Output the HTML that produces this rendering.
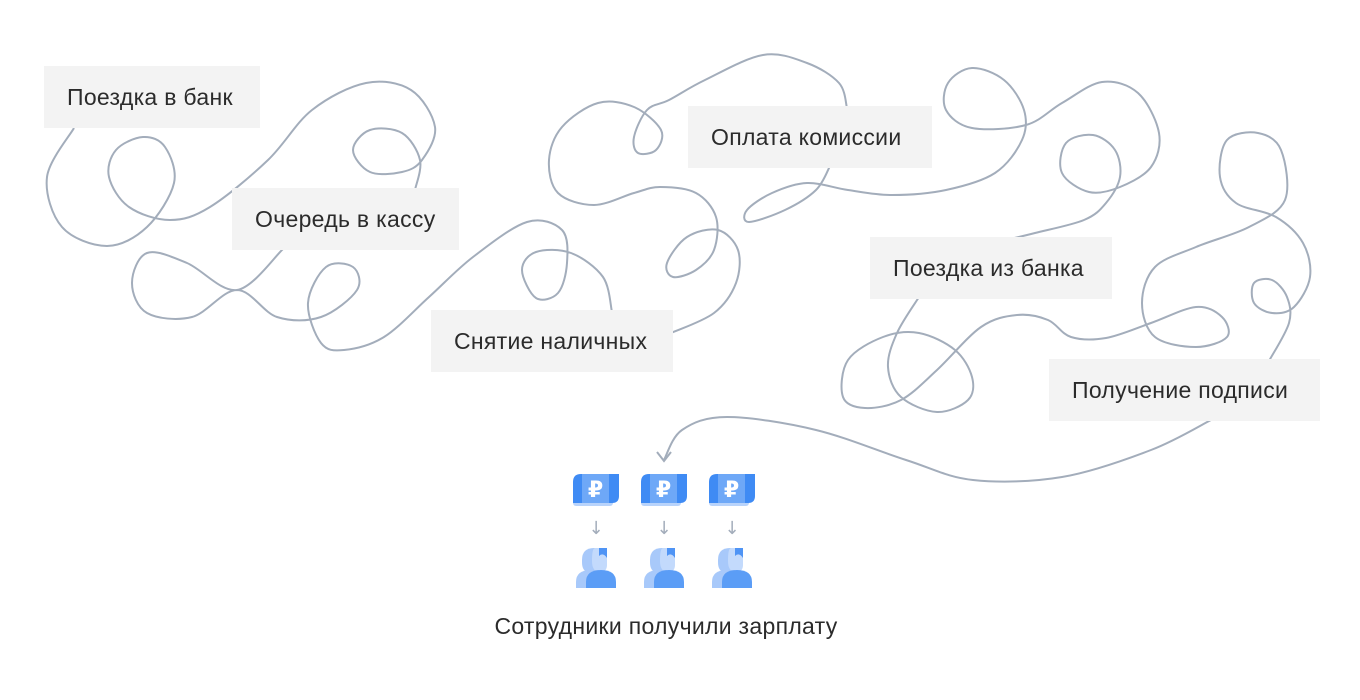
<!DOCTYPE html>
<html><head><meta charset="utf-8">
<style>
html,body{margin:0;padding:0;background:#fff;}
body{width:1360px;height:700px;position:relative;overflow:hidden;font-family:"Liberation Sans","DejaVu Sans",sans-serif;}
svg{position:absolute;left:0;top:0;}
.b{position:absolute;background:#f3f3f3;color:#2b2b2b;font-size:23px;letter-spacing:0.3px;display:flex;align-items:center;padding-left:23px;box-sizing:border-box;white-space:nowrap;}
.cap{position:absolute;left:416px;width:500px;top:613px;text-align:center;font-size:23px;letter-spacing:0.3px;color:#2b2b2b;}
</style></head><body>
<svg id="s" width="1360" height="700" viewBox="0 0 1360 700"></svg>
<div class="b" style="left:44px;top:66px;width:216px;height:62px">Поездка в банк</div>
<div class="b" style="left:232px;top:188px;width:227px;height:62px">Очередь в кассу</div>
<div class="b" style="left:431px;top:310px;width:242px;height:62px">Снятие наличных</div>
<div class="b" style="left:688px;top:106px;width:244px;height:62px">Оплата комиссии</div>
<div class="b" style="left:870px;top:237px;width:242px;height:62px">Поездка из банка</div>
<div class="b" style="left:1049px;top:359px;width:271px;height:62px">Получение подписи</div>
<svg width="1360" height="700" viewBox="0 0 1360 700" style="pointer-events:none">
<g id="icons"></g>
</svg>
<div class="cap">Сотрудники получили зарплату</div>
<script>
var segs=[
[[74,128],[47,177],[62,227],[107,246],[147,227],[174,183],[165,147],[143,137],[116,150],[109,177],[129,207],[170,220],[210,207],[268,160],[312,110],[366,83],[411,90],[435,127],[422,160],[402,172],[370,172],[353,150],[370,130],[402,133],[420,160],[415,190]],
[[283,249],[237,290],[187,263],[147,253],[132,283],[147,313],[192,317],[237,290],[277,317],[321,317],[357,290],[353,267],[326,267],[308,303],[321,343],[344,350],[384,337],[429,297],[473,257],[527,222],[562,230],[567,263],[558,293],[536,298],[522,270],[536,252],[571,253],[603,277],[612,312]],
[[671,333],[714,313],[736,283],[738,250],[718,230],[687,237],[667,263],[673,277],[696,270],[714,250],[716,217],[696,193],[660,187],[634,193],[594,205],[558,193],[549,160],[562,127],[598,103],[634,107],[661,130],[656,150],[638,153],[634,137],[647,110],[669,100],[705,80],[763,55],[807,63],[839,83],[847,108]],
[[830,166],[816,190],[785,210],[749,222],[747,210],[772,193],[807,183],[848,190],[892,195],[946,190],[995,173],[1022,140],[1024,110],[1004,80],[972,68],[948,83],[946,110],[972,128],[1026,125],[1062,103],[1102,82],[1138,93],[1159,133],[1151,167],[1120,187],[1089,192],[1062,173],[1066,143],[1093,135],[1115,150],[1120,177],[1106,203],[1084,220],[1035,233],[1010,239]],
[[919,297],[897,333],[888,367],[901,397],[937,412],[968,400],[972,377],[955,350],[919,333],[883,337],[848,360],[843,397],[865,408],[901,400],[937,370],[981,327],[1017,315],[1048,320],[1071,337],[1106,338],[1151,323],[1196,307],[1222,317],[1227,337],[1196,347],[1155,337],[1142,303],[1155,267],[1196,247],[1249,227],[1285,200],[1281,150],[1258,133],[1227,140],[1220,177],[1236,203],[1276,217],[1303,243],[1310,277],[1294,307],[1272,313],[1254,303],[1254,283],[1272,280],[1287,297],[1289,323],[1269,361]],
[[1211,420],[1151,450],[1062,477],[973,480],[906,460],[816,430],[727,417],[682,430],[664,460]]
];
function cr(p){var d="M"+p[0][0]+" "+p[0][1];for(var i=0;i<p.length-1;i++){var p0=p[i-1]||p[i],p1=p[i],p2=p[i+1],p3=p[i+2]||p2;
var c1=[p1[0]+(p2[0]-p0[0])/6,p1[1]+(p2[1]-p0[1])/6],c2=[p2[0]-(p3[0]-p1[0])/6,p2[1]-(p3[1]-p1[1])/6];
d+=" C"+c1[0].toFixed(1)+" "+c1[1].toFixed(1)+" "+c2[0].toFixed(1)+" "+c2[1].toFixed(1)+" "+p2[0]+" "+p2[1];}return d;}
var s=document.getElementById("s"),h="";
segs.forEach(function(p){h+='<path d="'+cr(p)+'" fill="none" stroke="#a3adbb" stroke-width="2"/>';});
h+='<path d="M657 452 L664 461 L671 452" fill="none" stroke="#a3adbb" stroke-width="2"/>';
s.innerHTML=h;
var g="",i;
for(i=0;i<3;i++){var x=573+i*68;
g+='<g transform="translate('+x+',0)">'+
'<rect x="0" y="499" width="40" height="7" rx="3" fill="#b8d3fb"/>'+
'<path d="M8 474 H46 V496 Q46 503 39 503 H0 V482 Q0 474 8 474Z" fill="#3f8bf4"/>'+
'<rect x="9" y="474" width="27" height="29" fill="#6ea8f7"/>'+
'<text x="22.5" y="497" font-family="Liberation Sans,DejaVu Sans,sans-serif" font-size="22" font-weight="bold" fill="#fff" text-anchor="middle">₽</text>'+
'<text x="23" y="534" font-family="DejaVu Sans,sans-serif" font-size="18" fill="#a3adbb" text-anchor="middle">↓</text>'+
'<path d="M9 560 Q9 548 21 548 H26 V572 H16 Q9 572 9 562Z" fill="#a8c9fa"/>'+
'<path d="M22 548 H34 V565 Q34 572 27 572 Q19 572 19 561 Q19 548 22 548Z" fill="#c3dafc"/>'+
'<path d="M26 548 H34 V558 Q30 552 26 556Z" fill="#4f94f5"/>'+
'<path d="M3 588 V582 Q3 570 18 570 H26 V588Z" fill="#a8c9fa"/>'+
'<path d="M13 588 V582 Q13 570 28 570 Q43 570 43 582 V588Z" fill="#5b9df6"/>'+
'</g>';}
document.getElementById("icons").innerHTML=g;
</script>
</body></html>
